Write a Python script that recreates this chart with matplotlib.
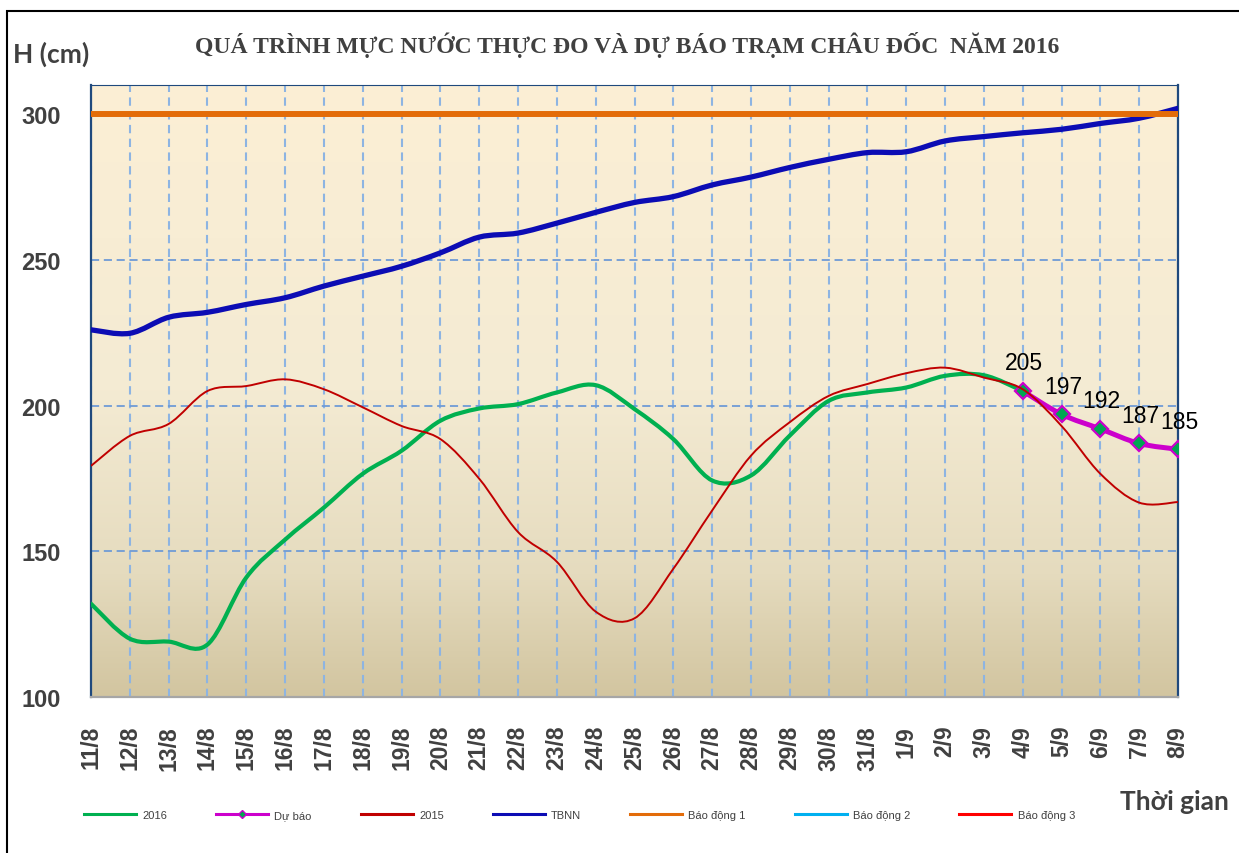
import matplotlib.pyplot as plt
import numpy as np
from matplotlib.path import Path
from matplotlib.patches import PathPatch, Rectangle
from matplotlib.lines import Line2D
from matplotlib.colors import LinearSegmentedColormap

# ngày (trục hoành)
ngay = ['11/8', '12/8', '13/8', '14/8', '15/8', '16/8', '17/8', '18/8', '19/8', '20/8',
        '21/8', '22/8', '23/8', '24/8', '25/8', '26/8', '27/8', '28/8', '29/8', '30/8',
        '31/8', '1/9', '2/9', '3/9', '4/9', '5/9', '6/9', '7/9', '8/9']

# mực nước 2016 (thực đo, tới 4/9)
h2016 = [132, 120, 119, 118, 141, 154, 165, 176.6, 184.5, 194.8,
         199, 200.5, 204.5, 207, 198.8, 188.5, 174.3, 176, 189.7, 201.6,
         204.5, 206.2, 210.2, 210.4, 205]

# dự báo 4/9 - 8/9
du_bao = [205, 197, 192, 187, 185]

# mực nước 2015
h2015 = [179.3, 189.6, 193.7, 205, 206.7, 209, 205.6, 199.4, 193, 188.5,
         174.9, 156.6, 146.4, 129.3, 127, 144, 164, 182.8, 194.3, 203.3,
         207.4, 211.1, 213, 209.6, 205.6, 193, 176.6, 166.7, 166.9]

# trung bình nhiều năm
tbnn = [226, 224.8, 230.3, 232, 234.7, 237, 241, 244.4, 247.8, 252.4,
        257.8, 259.2, 262.6, 266.3, 269.7, 271.7, 275.7, 278.4, 281.7, 284.5,
        286.8, 287.1, 290.8, 292.3, 293.6, 294.8, 296.8, 298.6, 302]

# mức báo động
bd1, bd2, bd3 = 300, 350, 400

x = np.arange(len(ngay))
x2016 = x[:len(h2016)]
xdb = x[len(h2016) - 1:]


def smooth(xs, ys):
    # duong cong Bezier qua cac diem (giong kieu smooth cua Excel)
    p = np.column_stack([xs, ys]).astype(float)
    n = len(p)
    verts = [p[0]]
    codes = [Path.MOVETO]
    for i in range(n - 1):
        p0 = p[i - 1] if i > 0 else p[i]
        p3 = p[i + 2] if i + 2 < n else p[i + 1]
        verts += [p[i] + (p[i + 1] - p0) / 6, p[i + 1] - (p3 - p[i]) / 6, p[i + 1]]
        codes += [Path.CURVE4] * 3
    return Path(verts, codes)


fig = plt.figure(figsize=(12.39, 8.54), dpi=100)
ax = fig.add_axes([91 / 1239, 1 - 698 / 854, 1087 / 1239, 612 / 854])

# nen chuyen mau
cmap = LinearSegmentedColormap.from_list('nen', [(0, '#fcefd5'), (0.5, '#f4ebd3'),
                                                 (0.8, '#e5dbbe'), (1, '#d2c5a0')])
grad = np.linspace(0, 1, 256).reshape(-1, 1)
ax.imshow(grad, cmap=cmap, extent=[0, 28, 100, 310], aspect='auto', zorder=0)

c2016 = '#00b050'
cdb = '#cc00cc'
c2015 = '#c00000'
ctb = '#0c0cb4'
cbd1 = '#e36c09'
cbd2 = '#00b0f0'
cbd3 = '#ff0000'

ax.add_patch(PathPatch(smooth(x2016, h2016), fill=False, ec=c2016, lw=3, zorder=3,
                       capstyle='round', joinstyle='round'))
ax.add_patch(PathPatch(smooth(xdb, du_bao), fill=False, ec=cdb, lw=3.6, zorder=3,
                       capstyle='round', joinstyle='round'))
ax.plot(xdb, du_bao, ls='none', marker='D', ms=8, mfc='#00a651', mec=cdb, mew=1.6, zorder=4)
ax.add_patch(PathPatch(smooth(x, h2015), fill=False, ec=c2015, lw=1.4, zorder=5))
ax.add_patch(PathPatch(smooth(x, tbnn), fill=False, ec=ctb, lw=3.8, zorder=6,
                       capstyle='round', joinstyle='round'))
ax.plot([0, 28], [bd1, bd1], color=cbd1, lw=4.3, zorder=7, solid_capstyle='butt')
ax.plot([0, 28], [bd2, bd2], color=cbd2, lw=2, zorder=7)
ax.plot([0, 28], [bd3, bd3], color=cbd3, lw=2, zorder=7)

for xi, v in zip(xdb, du_bao):
    ax.annotate(str(v), (xi, v), xytext=(1, 12), textcoords='offset points',
                ha='center', va='bottom', fontsize=16.5, family='Liberation Sans', zorder=8)

ax.set_xlim(0, 28)
ax.set_ylim(100, 310)

ax.set_axisbelow(True)
ax.xaxis.grid(True, color='#8db4e2', lw=1.5, dashes=(4, 2.6))
ax.yaxis.grid(True, color='#6f9bd6', lw=1.3, dashes=(4.5, 2.6))

ax.set_xticks(x)
ax.set_xticklabels(ngay, rotation=90, fontsize=16.5, fontweight='bold', color='#404040',
                   family='Liberation Sans', va='top')
ax.set_yticks([100, 150, 200, 250, 300])
ax.set_yticklabels(['100', '150', '200', '250', '300'], fontsize=17, fontweight='bold',
                   color='#404040', family='Liberation Sans', ha='left')
ax.tick_params(axis='x', length=0, pad=20)
ax.tick_params(axis='y', length=0, pad=50)

for s in ['left', 'right']:
    ax.spines[s].set_color('#1f497d')
    ax.spines[s].set_linewidth(1.6)
ax.spines['top'].set_color('#1f497d')
ax.spines['top'].set_linewidth(0.8)
ax.spines['bottom'].set_color('#a6a6a6')
ax.spines['bottom'].set_linewidth(1.6)

fig.text(627 / 1239, 1 - 45 / 854, 'QUÁ TRÌNH MỰC NƯỚC THỰC ĐO VÀ DỰ BÁO TRẠM CHÂU ĐỐC  NĂM 2016',
         ha='center', va='center', fontsize=17, fontweight='bold', color='#404040',
         family='Liberation Serif')
fig.text(13 / 1239, 1 - 54 / 854, 'H (cm)', ha='left', va='center', fontsize=19,
         fontweight='bold', color='#404040', family='Lato')
fig.text(1120 / 1239, 1 - 802 / 854, 'Thời gian', ha='left', va='center', fontsize=19,
         fontweight='bold', color='#404040', family='Lato')

# khung ngoai
fig.add_artist(Rectangle((7 / 1239, -0.1), 1.2, 1.1 - 12 / 854, fill=False, ec='black',
                         lw=1.5, transform=fig.transFigure))

handles = [Line2D([], [], color=c2016, lw=2.2),
           Line2D([], [], color=cdb, lw=2.2, marker='D', ms=4, mfc='#00a651', mec=cdb),
           Line2D([], [], color=c2015, lw=2.2),
           Line2D([], [], color=ctb, lw=2.2),
           Line2D([], [], color=cbd1, lw=2.2),
           Line2D([], [], color=cbd2, lw=2.2),
           Line2D([], [], color=cbd3, lw=2.2)]
labels = ['2016', 'Dự báo', '2015', 'TBNN', 'Báo động 1', 'Báo động 2', 'Báo động 3']
leg = fig.legend(handles, labels, loc='center left', bbox_to_anchor=(84 / 1239, 1 - 816 / 854),
                 ncol=7, frameon=False, handlelength=4.7, handletextpad=0.55,
                 columnspacing=4.4, borderpad=0, borderaxespad=0,
                 prop={'family': 'Liberation Sans', 'size': 8})
for t in leg.get_texts():
    t.set_color('#404040')

fig.savefig('out.png', dpi=100)
